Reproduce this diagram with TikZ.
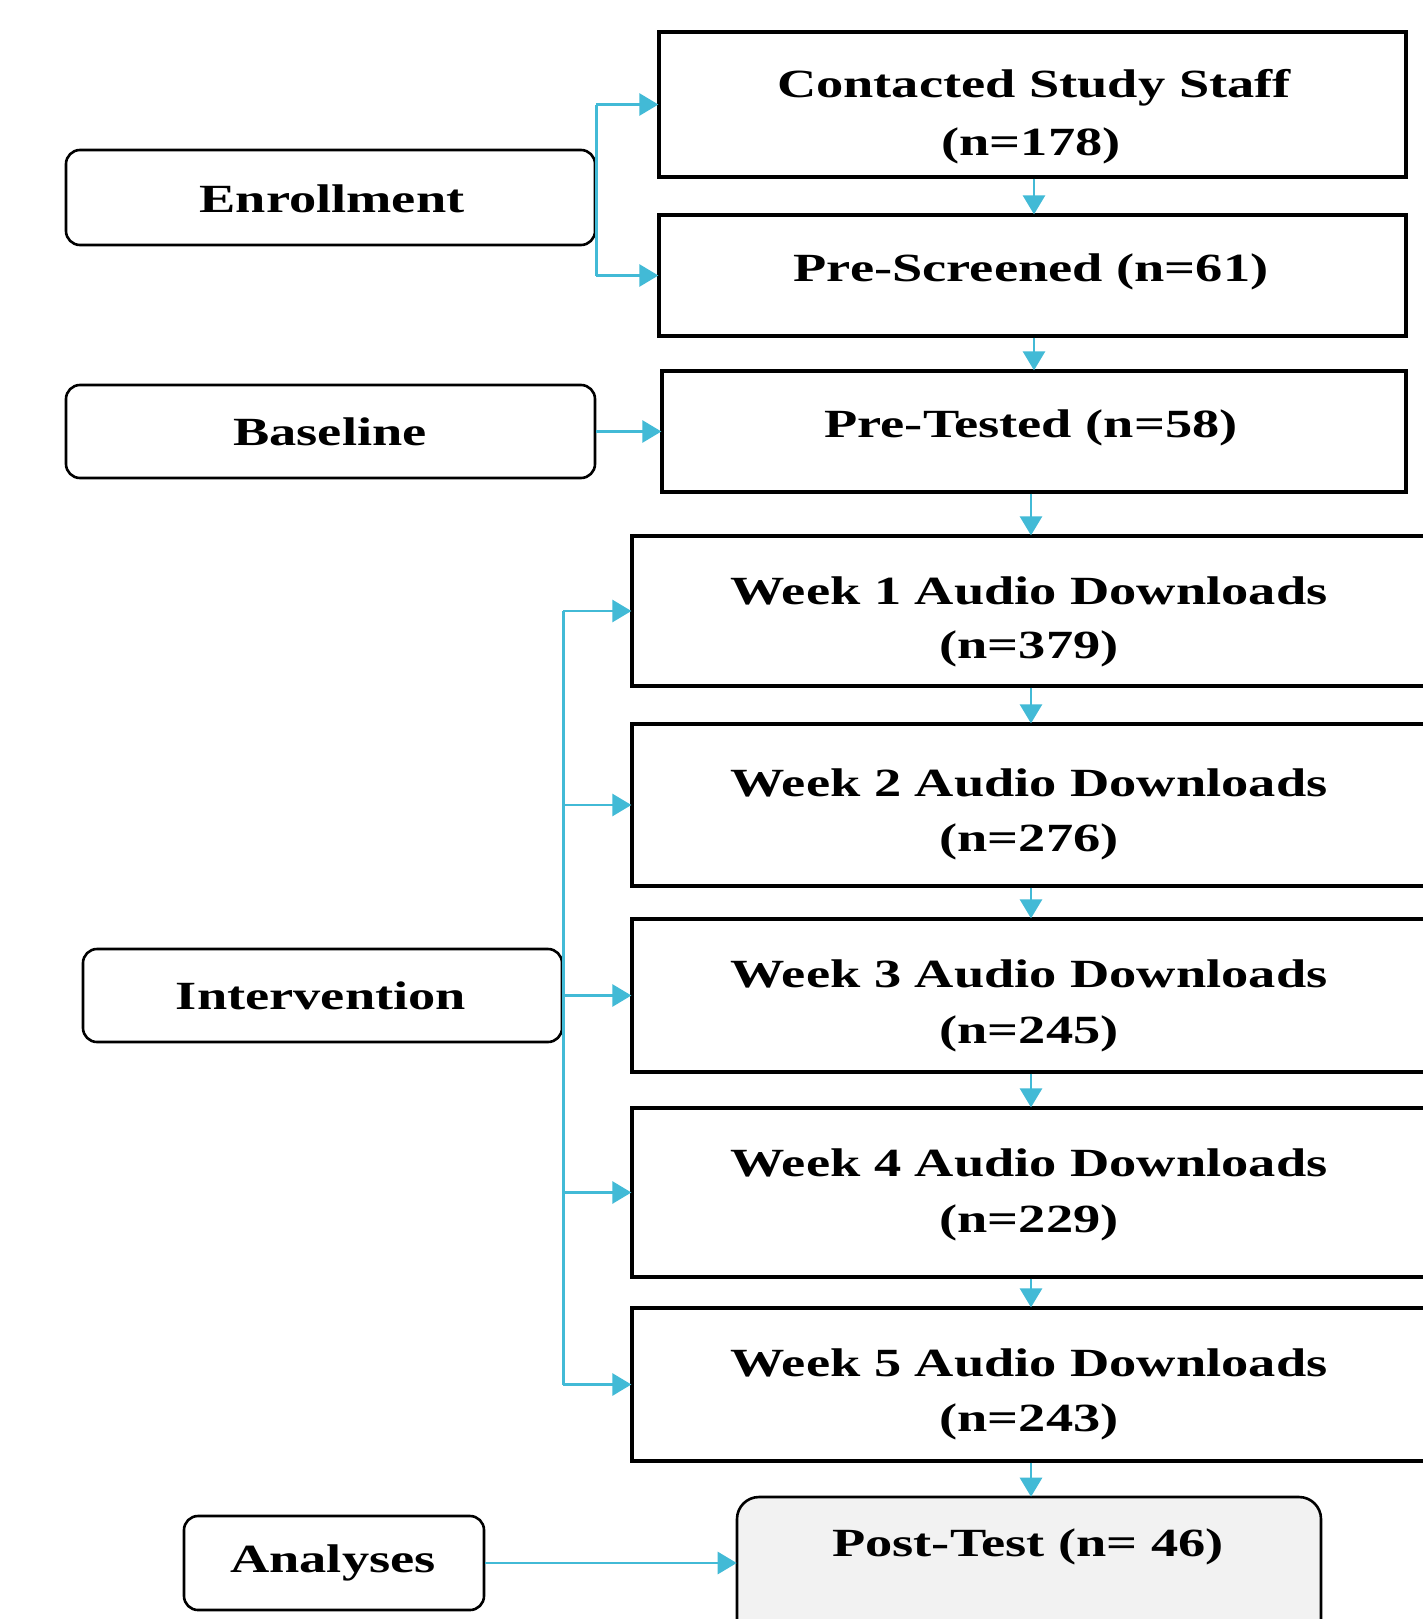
\documentclass[tikz,border=0pt]{standalone}
\usepackage{fontspec}
\setmainfont[FakeStretch=1.36]{Liberation Serif}
\usetikzlibrary{arrows.meta,calc}
\definecolor{conncol}{HTML}{42BAD6}
\definecolor{postfill}{HTML}{F2F2F2}
\tikzset{
  sqbox/.style={draw=black, line width=3.3pt, inner sep=0pt},
  rndbox/.style={draw=black, line width=2.6pt, rounded corners=14pt, inner sep=0pt},
  lbl/.style={inner sep=0pt, font=\fontsize{40}{48}\selectfont\bfseries},
  conn/.style={draw=conncol, line width=2.8pt},
  arr/.style={conn, -{Triangle[length=19pt,width=22pt]}, shorten >=-1pt},
}
\begin{document}
\begin{tikzpicture}[x=1pt,y=-1pt]
\useasboundingbox (0,0) rectangle (1423,1619);
\clip (0,0) rectangle (1423,1619);
\fill[white] (0,0) rectangle (1423,1619);

% left phase boxes
\node[rndbox, minimum width=529, minimum height=95] (enr) at (330.5,197.5) {};
\node[lbl] (enrt) at (332,199) {Enrollment};
\node[rndbox, minimum width=529, minimum height=93] (bas) at (330.5,431.5) {};
\node[lbl] (bast) at (330,432) {Baseline};
\node[rndbox, minimum width=479, minimum height=93] (int) at (322.5,995.5) {};
\node[lbl] (intt) at (321,996) {Intervention};
\node[rndbox, minimum width=300, minimum height=94] (ana) at (334,1563) {};
\node[lbl] (anat) at (333,1563) {Analyses};

% right boxes
\node[sqbox, minimum width=747, minimum height=145] (con) at (1032.5,104.5) {};
\node[lbl] (cont1) at (1034,88) {Contacted Study Staff};
\node[lbl] (cont2) at (1031,146) {(n=178)};
\node[sqbox, minimum width=747, minimum height=121] (prs) at (1032.5,275.5) {};
\node[lbl] (prst) at (1031,272) {Pre-Screened (n=61)};
\node[sqbox, minimum width=744, minimum height=121] (prt) at (1034,431.5) {};
\node[lbl] (prtt) at (1031,428) {Pre-Tested (n=58)};

\node[sqbox, minimum width=808, minimum height=150] (w1) at (1036,611) {};
\node[lbl] (w1a) at (1029,591) {Week 1 Audio Downloads};
\node[lbl] (w1b) at (1029,649) {(n=379)};
\node[sqbox, minimum width=808, minimum height=162] (w2) at (1036,805) {};
\node[lbl] (w2a) at (1029,783) {Week 2 Audio Downloads};
\node[lbl] (w2b) at (1029,842) {(n=276)};
\node[sqbox, minimum width=808, minimum height=153] (w3) at (1036,995.5) {};
\node[lbl] (w3a) at (1029,974) {Week 3 Audio Downloads};
\node[lbl] (w3b) at (1029,1034) {(n=245)};
\node[sqbox, minimum width=808, minimum height=169] (w4) at (1036,1192.5) {};
\node[lbl] (w4a) at (1029,1163) {Week 4 Audio Downloads};
\node[lbl] (w4b) at (1029,1223) {(n=229)};
\node[sqbox, minimum width=808, minimum height=153] (w5) at (1036,1384.5) {};
\node[lbl] (w5a) at (1029,1363) {Week 5 Audio Downloads};
\node[lbl] (w5b) at (1029,1422) {(n=243)};

\node[rndbox, fill=postfill, rounded corners=22pt, minimum width=584, minimum height=163] (pst) at (1029,1578.5) {};
\node[lbl] (pstt) at (1028,1547) {Post-Test (n= 46)};

% down connectors
\coordinate (xa) at (1034,0);
\coordinate (xb) at (1031,0);
\draw[arr] (xa |- con.south) -- (xa |- prs.north);
\draw[arr] (xa |- prs.south) -- (xa |- prt.north);
\draw[arr] (xb |- prt.south) -- (xb |- w1.north);
\draw[arr] (xb |- w1.south) -- (xb |- w2.north);
\draw[arr] (xb |- w2.south) -- (xb |- w3.north);
\draw[arr] (xb |- w3.south) -- (xb |- w4.north);
\draw[arr] (xb |- w4.south) -- (xb |- w5.north);
\draw[arr] (xb |- w5.south) -- (xb |- pst.north);

% enrollment bracket
\draw[conn] (enr.east |- con.west) -- (enr.east |- prs.west);
\draw[arr] (enr.east |- con.west) -- (con.west);
\draw[arr] (enr.east |- prs.west) -- (prs.west);

% baseline
\draw[arr] (bas.east) -- (prt.west);

% intervention bracket
\draw[conn] (int.east |- w1.west) -- (int.east |- w5.west);
\draw[arr] (int.east |- w1.west) -- (w1.west);
\draw[arr] (int.east |- w2.west) -- (w2.west);
\draw[arr] (int.east |- w3.west) -- (w3.west);
\draw[arr] (int.east |- w4.west) -- (w4.west);
\draw[arr] (int.east |- w5.west) -- (w5.west);

% analyses
\draw[arr] (ana.east) -- (ana.east -| pst.west);
\end{tikzpicture}
\end{document}
